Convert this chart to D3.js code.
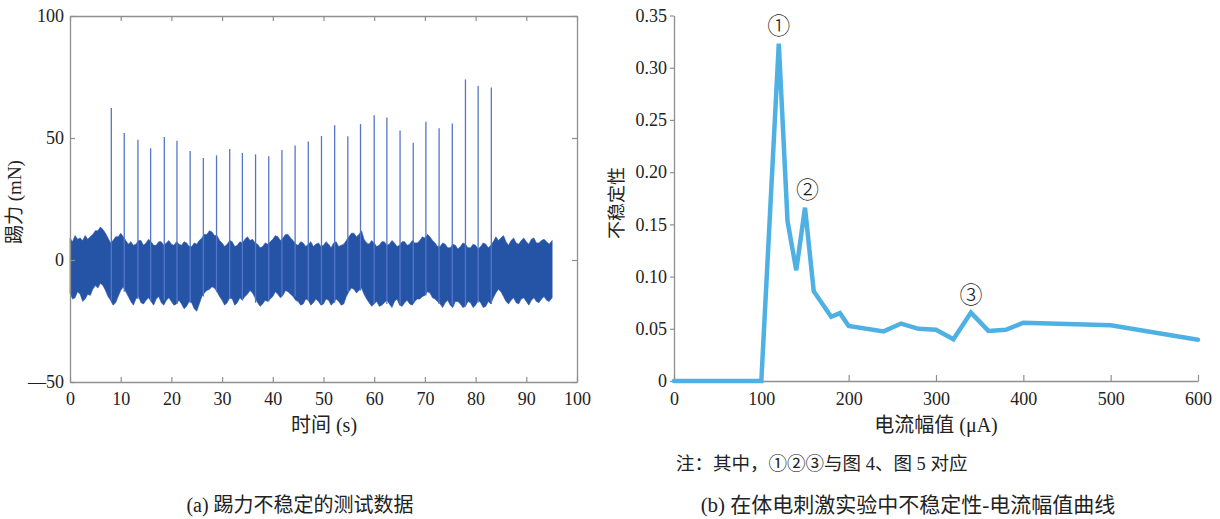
<!DOCTYPE html>
<html><head><meta charset="utf-8">
<script src="https://cdn.jsdelivr.net/npm/d3@7/dist/d3.min.js"></script>
<style>
html,body{margin:0;padding:0;background:#fff;}
svg text{font-family:"Liberation Serif","Times New Roman",Tinos,"DejaVu Serif","Noto Sans CJK SC",serif;fill:#222;}
</style></head>
<body>
<svg id="c" width="1220" height="519"></svg>
<script>
// ---------- Data: (a) kick force test data ----------
// upper / lower envelope of the force trace at whole seconds (t = 0..95 s)
const forceUpper = [9,10,9,10,9.5, 12,13.5,11,7,9.5,11,8,
  7.5,6.5,8,7,7.5,6,7.5,7,6.5,7.5,
  6,7,5.5,6.5, 9,10.5,11.5,10, 7,6.5,7.5,6,7, 9.5,8.5, 6.5,5.5,6.5,
  8.5,9.5,9,10.5,8, 6,7,6.5,5.5,7,6,6.5,7,5.5,6.5,
  9.5,11,10.5,8.5, 6.5,7,6,7.5,6.5,7,6,7.5,6.5,7,8,
  9,9.5,7, 5.5,6.5,5,6,5.5,6.5,5,6,5.5,6.5,6, 9.5,9,
  7.5,8,7,8,7.5,8.5,7,8,7.5,8];
const forceLower = [-13.5,-15.5,-14,-16,-14.5, -10.5,-9.5,-12.5,-16.5,-17.5,-12.5,-13,
  -17,-16,-17.5,-16.5,-17,-16,-17.5,-16.5,-17,-18,
  -18,-19,-17.5,-21, -15,-12.5,-11,-13, -16.5,-17.5,-16,-17.5,-16.5, -14,-13.5, -17.5,-18,-17,
  -15,-14,-14.5,-13,-15, -17,-18,-16.5,-17.5,-17,-18,-16.5,-17.5,-17,-18,
  -13,-12,-12.5,-14, -17.5,-18,-19,-17.5,-18,-17,-18.5,-17.5,-18,-17,-16,
  -14.5,-13.5,-16, -18,-17.5,-18.5,-17,-18,-19,-17.5,-18.5,-17.5,-19,-18, -13.5,-13,
  -17,-16.5,-17.5,-16,-17,-16.5,-17,-16,-16.5,-15.5];
// envelope at half seconds (t = 0.5..94.5 s)
const forceUpperHalf = [7.5,8.5,8,8.5,10.5, 12,12.5,9, 8,9.5,9.5,6.5,
  6,8,6,8.5,6,7.5,6,8,6,6.5, 7.5,5.5,7,8, 10.5,12,10,8, 5.5,8,5.5,7.5,8.5, 8,7, 5,7,7.5,
  10,8,10.5,9,6.5, 7.5,5.5,7.5,6.5,5.5,7.5,5,7.5,6,8, 11,9.5,12,7,
  8,5.5,7.5,6,8,5.5,7.5,6,8,7,9.5, 10.5,8,5.5, 7,5,6.5,4.5,7,5,6.5,4.5,7,5,7.5, 8,10,
  6,9,6.5,9,6.5,9,7,8.5,6.5];
const forceLowerHalf = [-16,-13,-17,-14,-12, -11.5,-10.5,-15, -18.5,-15,-11,-15,
  -18.5,-15,-18,-15.5,-18.5,-15,-18.5,-15.5,-18.5,-16.5, -20,-17,-20,-18, -13.5,-12,-11.5,-15,
  -18.5,-15.5,-18.5,-15.5,-15, -12.5,-15.5, -19,-16.5,-16, -13,-15.5,-12.5,-14,-16.5,
  -18.5,-16,-18.5,-16,-18.5,-16,-18.5,-16,-18.5,-15, -11.5,-13.5,-11.5,-16,
  -19,-17,-18.5,-16.5,-19.5,-16,-19,-16.5,-18.5,-16,-15, -13,-15.5,-17,
  -19.5,-16.5,-19.5,-17,-19.5,-17,-19.5,-16.5,-19.5,-17,-15.5, -12,-15,
  -18,-15.5,-18,-15.5,-18.5,-15.5,-17.5,-15,-17];
const forceEnd = 95.1;
const spikeTimes = [8.15,10.7,13.4,15.9,18.6,21.1,23.7,26.3,28.9,31.5,34.0,36.6,39.2,41.8,44.4,
  47.0,49.6,52.2,54.8,57.3,60.0,62.5,65.1,67.7,70.2,72.8,75.4,78.0,80.5,83.1];
const spikePeaks = [62.3,52.0,49.3,45.8,50.4,48.9,44.7,41.8,42.9,45.5,43.9,43.3,42.5,45.1,46.9,
  48.6,50.8,55.2,50.7,55.7,59.3,58.4,53.1,48.1,56.7,54.0,55.9,74.0,71.3,70.7];
const leftXTicks = [0,10,20,30,40,50,60,70,80,90,100];
const leftYTicks = [-50,0,50,100];

// ---------- Data: (b) instability vs current amplitude ----------
const currentAmp = [0,100,120,130,140,150,160,180,190,200,240,260,280,300,320,340,360,380,400,500,600];
const instability = [0,0,0.323,0.153,0.106,0.166,0.086,0.0615,0.065,0.0527,0.0475,0.055,0.050,0.049,0.040,0.0655,0.048,0.049,0.0558,0.0533,0.0395];
const markLabels = ["①","②","③"];
const markAmp = [120,153,340];
const markVal = [0.323,0.166,0.0655];
const rightXTicks = [0,100,200,300,400,500,600];
const rightYTicks = [0,0.05,0.10,0.15,0.20,0.25,0.30,0.35];

const svg = d3.select("#c");
const axisColor = "#8f8f8f";
const serifFam = "'Liberation Serif','Times New Roman',Tinos,'DejaVu Serif',serif";

// ================= Chart (a) =================
const xA = d3.scaleLinear().domain([0,100]).range([70,577]);
const yA = d3.scaleLinear().domain([-50,100]).range([382,16]);
const gA = svg.append("g");

const env = [];
forceUpper.forEach((u,i)=>{
  env.push({t:i,u:u,l:forceLower[i]});
  if(i<forceUpperHalf.length) env.push({t:i+0.5,u:forceUpperHalf[i],l:forceLowerHalf[i]});
});
env[env.length-1].t = forceEnd;
gA.append("path").datum(env)
  .attr("d", d3.area().x(d=>xA(d.t)).y0(d=>yA(d.l)).y1(d=>yA(d.u)))
  .attr("fill","#2553a5").attr("stroke","#2a57a8").attr("stroke-width",0.6);

gA.selectAll("line.spk").data(spikeTimes).join("line").attr("class","spk")
  .attr("x1",d=>xA(d)).attr("x2",d=>xA(d))
  .attr("y1",d=>{const i=Math.min(forceLower.length-1,Math.round(d));return yA(forceLower[i]);})
  .attr("y2",(d,i)=>yA(spikePeaks[i]))
  .attr("stroke","#5576c8").attr("stroke-width",1.3);

function styleAxis(g){
  g.attr("font-family",null);
  g.select(".domain").attr("stroke",axisColor).attr("stroke-width",1.3);
  g.selectAll(".tick line").attr("stroke",axisColor).attr("stroke-width",1.2);
  g.selectAll(".tick text").attr("font-size",18).attr("fill","#222")
    .style("font-family",serifFam);
}
const fmtA = d=> d<0 ? "\u2014"+Math.abs(d) : String(d);
gA.append("g").attr("transform","translate(0,382)")
  .call(d3.axisBottom(xA).tickValues(leftXTicks).tickSize(-5).tickPadding(10).tickSizeOuter(0))
  .call(styleAxis).call(g=>g.selectAll(".tick text").attr("dy","0.71em"));
gA.append("g").attr("transform","translate(0,16)")
  .call(d3.axisTop(xA).tickValues(leftXTicks).tickSize(-5).tickFormat("").tickSizeOuter(0))
  .call(styleAxis);
gA.append("g").attr("transform","translate(70,0)")
  .call(d3.axisLeft(yA).tickValues(leftYTicks).tickSize(-5).tickPadding(6).tickFormat(fmtA).tickSizeOuter(0))
  .call(styleAxis);
gA.append("g").attr("transform","translate(577,0)")
  .call(d3.axisRight(yA).tickValues(leftYTicks).tickSize(-5).tickFormat("").tickSizeOuter(0))
  .call(styleAxis);

gA.append("text").attr("transform","translate(21,202) rotate(-90)")
  .attr("text-anchor","middle").attr("font-size",19).text("踢力 (mN)");
gA.append("text").attr("x",324).attr("y",432)
  .attr("text-anchor","middle").attr("font-size",20).text("时间 (s)");
gA.append("text").attr("x",300).attr("y",512)
  .attr("text-anchor","middle").attr("font-size",20).text("(a) 踢力不稳定的测试数据");

// ================= Chart (b) =================
const xB = d3.scaleLinear().domain([0,600]).range([674,1198]);
const yB = d3.scaleLinear().domain([0,0.35]).range([381,15.5]);
const gB = svg.append("g");

gB.append("g").attr("transform","translate(0,381)")
  .call(d3.axisBottom(xB).tickValues(rightXTicks).tickSize(-6).tickPadding(11).tickSizeOuter(0))
  .call(styleAxis).call(g=>g.selectAll(".tick text").attr("dy","0.71em"));
gB.append("g").attr("transform","translate(674,0)")
  .call(d3.axisLeft(yB).tickValues(rightYTicks).tickSize(4).tickPadding(3)
    .tickFormat(d=> d===0 ? "0" : d.toFixed(2)).tickSizeOuter(0))
  .call(styleAxis);

gB.append("path").datum(currentAmp.map((a,i)=>[a,instability[i]]))
  .attr("d", d3.line().x(d=>xB(d[0])).y(d=>yB(d[1])))
  .attr("fill","none").attr("stroke","#4fb1e3").attr("stroke-width",4.5)
  .attr("stroke-linejoin","miter").attr("stroke-linecap","round");

gB.selectAll("text.mk").data(markLabels).join("text").attr("class","mk")
  .attr("x",(d,i)=>xB(markAmp[i]))
  .attr("y",(d,i)=>yB(markVal[i])-10)
  .attr("text-anchor","middle").attr("font-size",23)
  .style("font-family","'Noto Sans CJK SC',sans-serif").style("font-weight","300")
  .text(d=>d);

gB.append("text").attr("transform","translate(623,203) rotate(-90)")
  .attr("text-anchor","middle").attr("font-size",18).text("不稳定性");
gB.append("text").attr("x",936).attr("y",432)
  .attr("text-anchor","middle").attr("font-size",20).text("电流幅值 (μA)");
gB.append("text").attr("x",676).attr("y",470)
  .attr("text-anchor","start").attr("font-size",18.5).text("注：其中，①②③与图 4、图 5 对应");
gB.append("text").attr("x",908).attr("y",512)
  .attr("text-anchor","middle").attr("font-size",21).text("(b) 在体电刺激实验中不稳定性-电流幅值曲线");
</script>
</body></html>
